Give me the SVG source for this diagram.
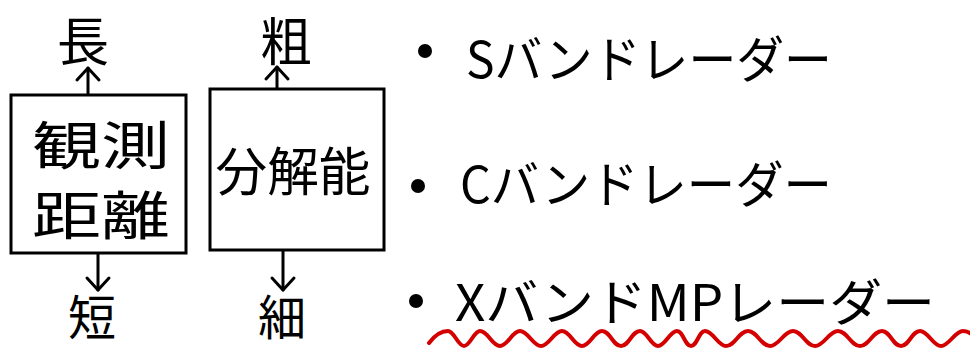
<svg xmlns="http://www.w3.org/2000/svg" width="970" height="349" viewBox="0 0 970 349">
<style>
  text { font-family: "Noto Sans CJK JP", "Noto Sans", sans-serif; fill: #000; dominant-baseline: central; }
  .box { fill: #fff; stroke: #000; stroke-width: 3; }
  .lbl { font-size: 52px; text-anchor: middle; }
  .lbl2 { font-size: 48px; text-anchor: middle; }
  .inb { font-size: 52px; text-anchor: middle; }
  .item { font-size: 50px; }
  .conn { stroke: #000; stroke-width: 3; fill: none; stroke-linecap: round; }
  .bullet { fill: #000; }
  .wave { stroke: #d40000; stroke-width: 4; fill: none; stroke-linecap: round; stroke-linejoin: round; }
</style>
<defs>
  <marker id="head" viewBox="-16 -16 32 32" markerWidth="32" markerHeight="32" refX="0" refY="0" orient="auto" markerUnits="userSpaceOnUse" overflow="visible">
    <path d="M-12,-11 L0,0 L-12,11" fill="none" stroke="#000" stroke-width="3" stroke-linecap="round" stroke-linejoin="round"/>
  </marker>
</defs>
<rect width="970" height="349" fill="#fff"/>

<g id="connectors">
  <line class="conn" x1="88" y1="95" x2="88" y2="68" marker-end="url(#head)"/>
  <line class="conn" x1="98" y1="253" x2="98" y2="290" marker-end="url(#head)"/>
  <line class="conn" x1="277" y1="89" x2="277" y2="67" marker-end="url(#head)"/>
  <line class="conn" x1="283" y1="250" x2="283" y2="290" marker-end="url(#head)"/>
</g>

<g id="node-kansoku">
  <rect class="box" x="11" y="95" width="175" height="158"/>
  <text class="inb" x="101" y="142" textLength="138" lengthAdjust="spacingAndGlyphs">観測</text>
  <text class="inb" x="101" y="212" textLength="138" lengthAdjust="spacingAndGlyphs">距離</text>
</g>
<g id="node-naga"><text class="lbl" x="83" y="38">長</text></g>
<g id="node-mijika"><text class="lbl2" x="92" y="314">短</text></g>

<g id="node-bunkai">
  <rect class="box" x="210" y="89" width="174" height="161"/>
  <text class="inb" x="293" y="168" font-size="60" textLength="155" lengthAdjust="spacingAndGlyphs">分解能</text>
</g>
<g id="node-ara"><text class="lbl" x="286" y="38">粗</text></g>
<g id="node-hoso"><text class="lbl2" x="282" y="314">細</text></g>

<g id="list">
  <circle class="bullet" cx="425" cy="51" r="7"/>
  <text class="item" x="466" y="56" textLength="366" lengthAdjust="spacingAndGlyphs">Sバンドレーダー</text>
  <circle class="bullet" cx="418" cy="186" r="7"/>
  <text class="item" x="460" y="181" textLength="372" lengthAdjust="spacingAndGlyphs">Cバンドレーダー</text>
  <circle class="bullet" cx="416" cy="301" r="7"/>
  <text class="item" x="455" y="299" textLength="480" lengthAdjust="spacingAndGlyphs">XバンドMPレーダー</text>
  <path class="wave" d="M429,343 C435,335 441,331 448,331 C454,331 458,346 464,346 C470,346 474,331 480,331 C488,331 492,346 500,346 C508,346 512,331 520,331 C528,331 533,346 541,346 C549,346 554,331 562,331 C570,331 574,346 582,346 C590,346 594,331 602,331 C610,331 613,346 621,346 C629,346 632,331 640,331 C647,331 651,346 658,346 C665,346 670,331 677,331 C683,331 685,346 691,346 C697,346 699,331 705,331 C713,331 718,346 726,346 C735,346 739,331 748,331 C757,331 761,346 770,346 C779,346 784,331 793,331 C802,331 806,346 815,346 C824,346 829,331 838,331 C847,331 851,346 860,346 C869,346 873,331 882,331 C890,331 893,346 901,346 C909,346 912,331 920,331 C928,331 933,346 941,346 C949,346 955,331 963,331 C968,331 972,334 975,337"/>
</g>
</svg>
